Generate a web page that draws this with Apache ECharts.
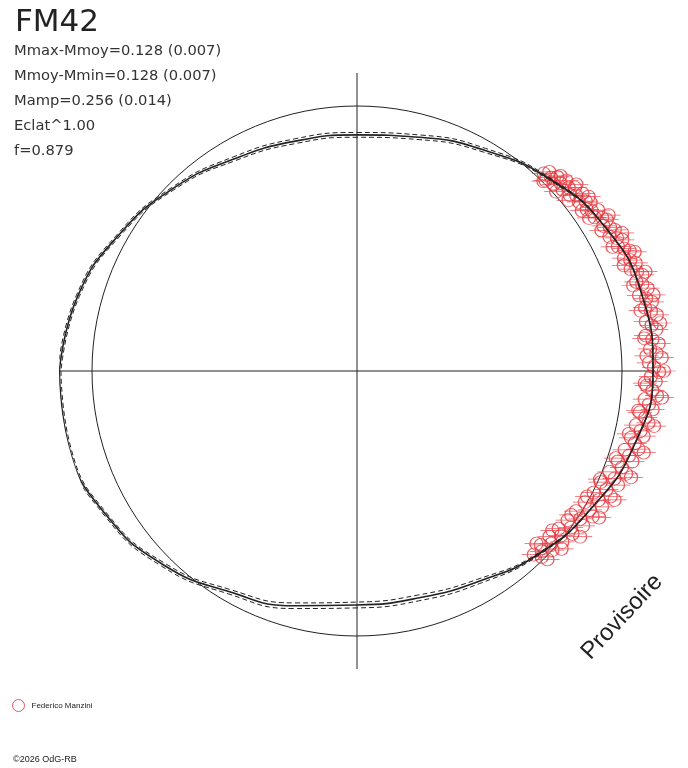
<!DOCTYPE html>
<html>
<head>
<meta charset="utf-8">
<title>FM42</title>
<script src="https://cdn.jsdelivr.net/npm/echarts@6/dist/echarts.min.js"></script>
<style>
  html, body { margin: 0; padding: 0; background: #fff; }
  #chart { width: 688px; height: 768px; }
</style>
</head>
<body>
<div id="chart"></div>
<script>
'use strict';

/*-----------------------------------------------
|   Data (angle in degrees, flux relative to mean)
-----------------------------------------------*/
const titleText = 'FM42';
const statLines = [
  'Mmax-Mmoy=0.128 (0.007)',
  'Mmoy-Mmin=0.128 (0.007)',
  'Mamp=0.256 (0.014)',
  'Eclat^1.00',
  'f=0.879'
];
const observerName = 'Federico Manzini';

const curveAngles = [-180, -165, -150, -135, -120, -105, -90, -75, -60, -45, -30, -15,
  0, 15, 30, 45, 60, 75, 90, 105, 120, 135, 150, 165, 180];
const curveFlux = [1.123, 1.124, 1.091, 1.034, 0.962, 0.917, 0.883, 0.887, 0.917, 0.974, 1.026, 1.083,
  1.117, 1.113, 1.083, 1.026, 0.962, 0.913, 0.891, 0.898, 0.925, 0.977, 1.034, 1.091, 1.123];
const curveFluxOuter = [1.129, 1.130, 1.097, 1.042, 0.971, 0.928, 0.894, 0.898, 0.926, 0.978, 1.027, 1.083,
  1.117, 1.113, 1.084, 1.030, 0.970, 0.922, 0.900, 0.907, 0.933, 0.983, 1.040, 1.097, 1.129];
const curveFluxInner = [1.117, 1.118, 1.085, 1.026, 0.953, 0.906, 0.872, 0.876, 0.908, 0.970, 1.025, 1.083,
  1.117, 1.113, 1.082, 1.022, 0.954, 0.904, 0.882, 0.889, 0.917, 0.971, 1.028, 1.085, 1.117];

const obsAngle = [
  46.6, 46.0, 45.3, 44.9, 44.1, 43.5, 42.8, 42.3, 41.4, 40.9,
  40.1, 39.6, 38.7, 38.2, 37.3, 36.6, 35.8, 35.1, 34.3, 33.7,
  32.9, 32.0, 31.2, 30.5, 29.6, 28.7, 28.0, 27.1, 26.3, 25.5,
  24.6, 23.8, 22.9, 22.1, 21.2, 20.4, 19.5, 18.6, 17.7, 16.9,
  15.9, 15.0, 14.1, 13.2, 12.4, 11.5, 10.6, 9.7, 8.8, 7.9,
  7.0, 6.1, 5.2, 4.3, 3.4, 2.5, 1.6, 0.7, -0.2, -1.1,
  -2.0, -2.9, -3.8, -4.7, -5.6, -6.5, -7.4, -8.3, -9.2, -10.1,
  -11.0, -11.9, -12.8, -13.7, -14.6, -15.5, -16.4, -17.3, -18.2, -19.1,
  -20.0, -20.9, -21.8, -22.7, -23.6, -24.5, -25.4, -26.3, -27.2, -28.1,
  -29.0, -29.9, -30.8, -31.7, -32.6, -33.5, -34.4, -35.3, -36.2, -37.1,
  -38.0, -38.9, -39.8, -40.7, -41.6, -42.5, -43.4, -44.3, -45.2, -46.1,
  45.5, 43.8, 42.0, 40.4, 38.9, 37.0, 35.5, 33.4, 31.8, 29.9,
  27.5, 25.9, 23.2, 21.6, 19.0, 17.2, 14.4, 12.0, 9.0, 6.5,
  3.0, 0.0, -2.4, -5.0, -8.0, -10.5, -13.0, -15.9, -18.6, -21.2,
  -24.0, -26.6, -28.6, -31.2, -33.9, -36.6, -39.2, -41.0, -43.9, -44.7
];
const obsFlux = [
  1.026, 1.045, 1.011, 1.034, 1.053, 1.023, 1.045, 1.068, 1.034, 1.057,
  1.075, 1.042, 1.060, 1.083, 1.053, 1.075, 1.087, 1.060, 1.072, 1.094,
  1.068, 1.091, 1.102, 1.079, 1.098, 1.109, 1.079, 1.102, 1.117, 1.091,
  1.109, 1.125, 1.094, 1.113, 1.128, 1.102, 1.121, 1.136, 1.106, 1.125,
  1.140, 1.102, 1.125, 1.143, 1.113, 1.132, 1.151, 1.106, 1.125, 1.140,
  1.098, 1.121, 1.143, 1.109, 1.132, 1.151, 1.102, 1.121, 1.140, 1.109,
  1.128, 1.094, 1.117, 1.136, 1.091, 1.109, 1.125, 1.079, 1.102, 1.117,
  1.072, 1.094, 1.109, 1.064, 1.083, 1.102, 1.053, 1.075, 1.094, 1.042,
  1.064, 1.087, 1.026, 1.053, 1.075, 1.011, 1.042, 1.068, 1.004, 1.034,
  1.057, 0.992, 1.023, 1.045, 0.981, 1.011, 1.034, 0.974, 1.000, 1.019,
  0.966, 0.989, 1.008, 0.958, 0.981, 1.000, 0.955, 0.974, 0.989, 0.962,
  1.004, 1.064, 1.011, 1.087, 1.026, 1.094, 1.042, 1.049, 1.117, 1.064,
  1.128, 1.072, 1.140, 1.083, 1.151, 1.091, 1.155, 1.094, 1.158, 1.091,
  1.094, 1.158, 1.087, 1.155, 1.072, 1.140, 1.053, 1.125, 1.030, 1.109,
  1.004, 1.087, 0.989, 1.068, 0.974, 1.049, 0.951, 1.023, 0.940, 1.011
];

/*-----------------------------------------------
|   Helpers
-----------------------------------------------*/
const INK = '#222';
const RED = '#e5323a';
const FLUX_MAX = 298 / 265;

// polar data items are [radius, angle]
const toPolar = (angles, flux) => angles.map((a, i) => [flux[i], a]);

// open circle with a horizontal bar through it
const obsSymbol = 'path://M-12,0L12,0M6.5,0A6.5,6.5,0,1,1,-6.5,0A6.5,6.5,0,1,1,6.5,0';

const curveSeries = (flux, lineStyle, z) => ({
  type: 'line',
  coordinateSystem: 'polar',
  clip: false,
  smooth: 0.5,
  symbol: 'none',
  lineStyle,
  data: toPolar(curveAngles, flux),
  z
});

const chart = echarts.init(document.getElementById('chart'), null, { renderer: 'canvas' });

chart.setOption({
  animation: false,
  backgroundColor: '#fff',
  title: [
    {
      text: titleText,
      left: 15,
      top: 7,
      padding: 0,
      textStyle: { fontFamily: 'DejaVu Sans', fontSize: 31, fontWeight: 'normal', color: INK, lineHeight: 32 }
    },
    {
      text: statLines.join('\n'),
      left: 14,
      top: 39,
      padding: 0,
      textStyle: { fontFamily: 'DejaVu Sans', fontSize: 14.7, fontWeight: 'normal', color: '#333', lineHeight: 25 }
    }
  ],
  legend: {
    left: 12,
    top: 699,
    padding: 0,
    itemWidth: 12,
    itemHeight: 12,
    itemGap: 4,
    selectedMode: false,
    textStyle: { fontFamily: 'Liberation Sans', fontSize: 8, color: INK, padding: [0, 0, 0, 2] },
    data: [{
      name: observerName,
      icon: 'circle',
      itemStyle: { color: 'rgba(0,0,0,0)', borderColor: RED, borderWidth: 1 }
    }]
  },
  polar: { center: [357, 371], radius: 298 },
  angleAxis: {
    type: 'value',
    min: -180,
    max: 180,
    interval: 90,
    startAngle: 180,
    clockwise: false,
    axisLine: { show: false },
    axisTick: { show: false },
    axisLabel: { show: false },
    splitLine: { show: true, lineStyle: { color: INK, width: 1 } }
  },
  radiusAxis: {
    type: 'value',
    min: 0,
    max: FLUX_MAX,
    interval: 1,
    axisLine: { show: false },
    axisTick: { show: false },
    axisLabel: { show: false },
    splitLine: {
      show: true,
      lineStyle: { color: ['rgba(0,0,0,0)', INK, 'rgba(0,0,0,0)'], width: 1 }
    }
  },
  graphic: [
    {
      type: 'text',
      x: 622,
      y: 617,
      rotation: 0.82,
      style: {
        text: 'Provisoire',
        fill: INK,
        font: '24px "Liberation Sans"',
        align: 'center',
        verticalAlign: 'middle'
      }
    },
    {
      type: 'text',
      left: 13,
      top: 755,
      style: { text: '\u00a92026 OdG-RB', fill: INK, font: '9px "Liberation Sans"' }
    }
  ],
  series: [
    {
      name: observerName,
      type: 'scatter',
      coordinateSystem: 'polar',
      clip: false,
      symbol: obsSymbol,
      symbolSize: [24, 13],
      itemStyle: { color: 'rgba(0,0,0,0)', borderColor: RED, borderWidth: 1 },
      data: toPolar(obsAngle, obsFlux),
      z: 2
    },
    curveSeries(curveFluxOuter, { color: INK, width: 1, type: [5, 3] }, 3),
    curveSeries(curveFluxInner, { color: INK, width: 1, type: [5, 3] }, 3),
    curveSeries(curveFlux, { color: INK, width: 1.6 }, 4)
  ]
});
</script>
</body>
</html>
